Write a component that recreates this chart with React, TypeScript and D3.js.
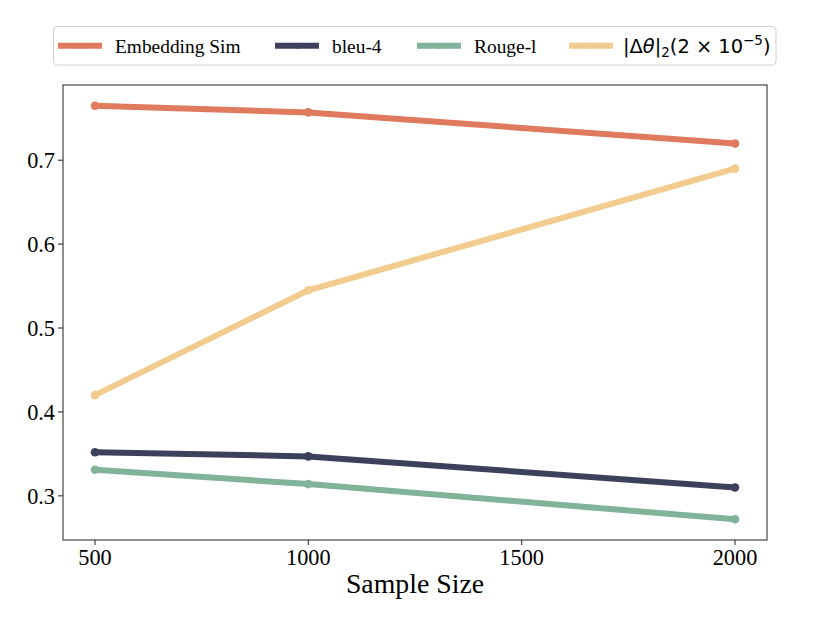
import React from "react";
import * as d3 from "d3";

const sampleSizes = [500, 1000, 2000];
const embeddingSim = [0.765, 0.757, 0.72];
const bleu4 = [0.352, 0.347, 0.31];
const rougeL = [0.331, 0.314, 0.272];
const deltaTheta = [0.42, 0.545, 0.69];
const xTicks = [500, 1000, 1500, 2000];
const yTicks = [0.3, 0.4, 0.5, 0.6, 0.7];
const seriesNames = ["Embedding Sim", "bleu-4", "Rouge-l", "delta"];
const seriesColors = ["#e07a5f", "#3d405b", "#81b29a", "#f2cc8f"];
const seriesValues = [embeddingSim, bleu4, rougeL, deltaTheta];

const W = 830;
const H = 623;
const M = { left: 63, right: 767, top: 85, bottom: 540 };
const legendLineX = [58, 275, 417, 569];

export default function App() {
  const allVals = seriesValues.flat();
  const yMin = d3.min(allVals)!;
  const yMax = d3.max(allVals)!;
  const yPad = (yMax - yMin) * 0.05;
  const xMin = d3.min(sampleSizes)!;
  const xMax = d3.max(sampleSizes)!;
  const xPad = (xMax - xMin) * 0.05;
  const x = d3.scaleLinear().domain([xMin - xPad, xMax + xPad]).range([M.left, M.right]);
  const y = d3.scaleLinear().domain([yMin - yPad, yMax + yPad]).range([M.bottom, M.top]);
  const line = d3
    .line<number>()
    .x((_, i) => x(sampleSizes[i]))
    .y((d) => y(d));

  const serif = "'Liberation Serif', 'Times New Roman', serif";
  const sans = "'DejaVu Sans', sans-serif";
  const legendY = 45.7;

  return (
    <svg
      width={W}
      height={H}
      style={{ position: "absolute", left: 0, top: 0, background: "#fff" }}
    >
      <rect x={0} y={0} width={W} height={H} fill="#fff" />
      {seriesValues.map((vals, si) => (
        <g key={si}>
          <path
            d={line(vals) || ""}
            fill="none"
            stroke={seriesColors[si]}
            strokeWidth={6}
            strokeLinecap="butt"
            strokeLinejoin="round"
          />
          {vals.map((v, i) => (
            <circle key={i} cx={x(sampleSizes[i])} cy={y(v)} r={4.3} fill={seriesColors[si]} />
          ))}
        </g>
      ))}
      <rect
        x={M.left}
        y={M.top}
        width={M.right - M.left}
        height={M.bottom - M.top}
        fill="none"
        stroke="#333"
        strokeWidth={1.1}
      />
      {xTicks.map((t) => (
        <g key={t}>
          <line x1={x(t)} x2={x(t)} y1={M.bottom} y2={M.bottom + 5} stroke="#333" strokeWidth={1.1} />
          <text
            x={x(t)}
            y={565}
            textAnchor="middle"
            fontFamily={serif}
            fontSize={22.3}
            fill="#000"
          >
            {t}
          </text>
        </g>
      ))}
      {yTicks.map((t) => (
        <g key={t}>
          <line x1={M.left - 5} x2={M.left} y1={y(t)} y2={y(t)} stroke="#333" strokeWidth={1.1} />
          <text
            x={55}
            y={y(t) + 7.8}
            textAnchor="end"
            fontFamily={serif}
            fontSize={22.3}
            fill="#000"
          >
            {d3.format(".1f")(t)}
          </text>
        </g>
      ))}
      <text
        x={(M.left + M.right) / 2}
        y={593}
        textAnchor="middle"
        fontFamily={serif}
        fontSize={27.8}
        fill="#000"
      >
        Sample Size
      </text>

      {/* legend */}
      <rect x={53.5} y={26.5} width={722.5} height={38.5} rx={4} fill="#fff" stroke="#d0d0d0" strokeWidth={1} />
      {seriesNames.map((name, si) => {
        const lx = legendLineX[si];
        return (
          <g key={name}>
            <line x1={lx} x2={lx + 44} y1={legendY} y2={legendY} stroke={seriesColors[si]} strokeWidth={6} />
            <circle cx={lx + 22} cy={legendY} r={3} fill={seriesColors[si]} />
            {si < 3 ? (
              <text x={lx + 57} y={52.5} fontFamily={serif} fontSize={19.4} fill="#000">
                {name}
              </text>
            ) : (
              <text x={lx + 54} y={52.5} fontFamily={sans} fontSize={19.4} fill="#000">
                <tspan>|Δ</tspan>
                <tspan fontStyle="italic">θ</tspan>
                <tspan>|</tspan>
                <tspan fontSize={13.5} dy={4}>2</tspan>
                <tspan dy={-4}>(2 × 10</tspan>
                <tspan fontSize={13.5} dy={-8}>−5</tspan>
                <tspan dy={8}>)</tspan>
              </text>
            )}
          </g>
        );
      })}
    </svg>
  );
}
